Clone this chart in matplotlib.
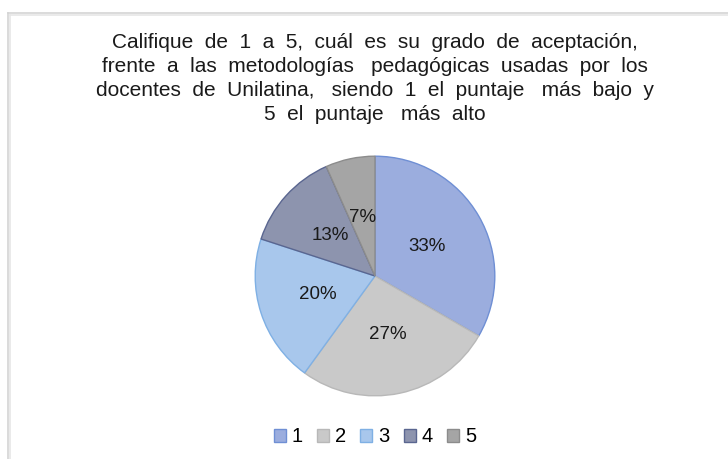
#!/usr/bin/env python3

import matplotlib.pyplot as plt
from matplotlib.patches import Patch
from matplotlib.lines import Line2D

# datos
categorias = ['1', '2', '3', '4', '5']
respuestas = [5, 4, 3, 2, 1]
colores = ['#9badde', '#c9c9c9', '#a8c7ec', '#8d94ae', '#a5a5a5']
bordes = ['#6f8fd4', '#b8b8b8', '#7fb0e4', '#5a6690', '#8c8c8c']
titulo = ('Califique  de  1  a  5,  cuál  es  su  grado  de  aceptación,\n'
          'frente  a  las  metodologías   pedagógicas  usadas  por  los\n'
          'docentes  de  Unilatina,   siendo  1  el  puntaje   más  bajo  y\n'
          '5  el  puntaje   más  alto')


def main():
    plt.rcParams['font.family'] = ['Liberation Sans', 'DejaVu Sans']
    fig = plt.figure(figsize=(7.28, 4.59), dpi=100)
    W, H = 728, 459

    # marco gris
    for off, col in ((0, '#d4d4d4'), (2, '#e6e6e6')):
        x0 = (8 + off) / W
        y0 = 1 - (13 + off) / H
        fig.add_artist(Line2D([x0, 1], [y0, y0], transform=fig.transFigure,
                              color=col, lw=1.2))
        fig.add_artist(Line2D([x0, x0], [0, y0], transform=fig.transFigure,
                              color=col, lw=1.2))

    fig.text(375 / W, 1 - 33 / H, titulo, ha='center', va='top',
             fontsize=15, linespacing=1.33, color='#1a1a1a')

    cx, cy, r = 375, 276, 121
    ax = fig.add_axes([(cx - r) / W, (H - cy - r) / H, 2 * r / W, 2 * r / H])
    wedges, textos, pct = ax.pie(respuestas, colors=colores, startangle=90,
                                 counterclock=False, autopct='%1.0f%%',
                                 pctdistance=0.5,
                                 wedgeprops=dict(linewidth=1.0),
                                 textprops=dict(fontsize=13.5, color='#1a1a1a'))
    for w, b in zip(wedges, bordes):
        w.set_edgecolor(b)
    ax.set_xlim(-1.01, 1.01)
    ax.set_ylim(-1.01, 1.01)

    handles = [Patch(facecolor=c, edgecolor=b, lw=1.0) for c, b in zip(colores, bordes)]
    fig.legend(handles, categorias, loc='center', ncol=5,
               bbox_to_anchor=(375 / W, 1 - 437 / H), frameon=False,
               fontsize=14.5, handlelength=0.6, handleheight=0.6,
               handletextpad=0.3, columnspacing=0.7)

    fig.savefig('out.png', dpi=100)


if __name__ == "__main__":
    main()
